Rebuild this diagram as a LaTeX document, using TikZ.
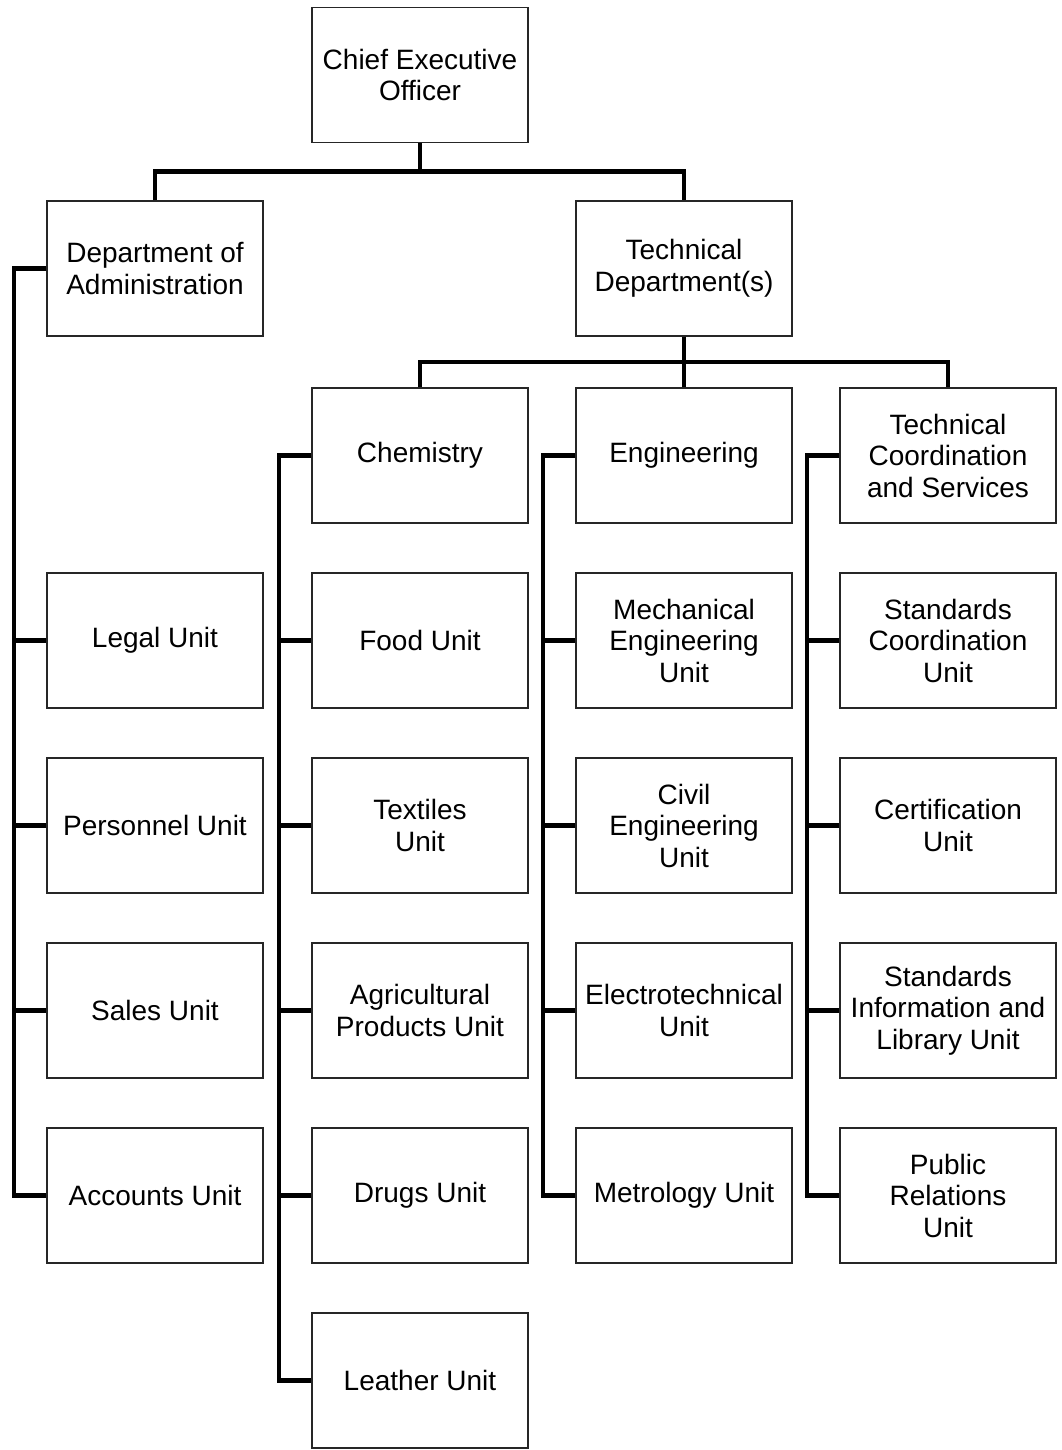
\documentclass[tikz,border=0pt]{standalone}
\usepackage{fontspec}
\setmainfont{Liberation Sans}
\begin{document}
\begin{tikzpicture}[x=1pt,y=-1pt,
  box/.style={draw=black!85,line width=1.4pt,fill=white,minimum width=216pt,minimum height=135pt,
    inner sep=0pt,align=center,font=\fontsize{28}{31.5}\selectfont},
  conn/.style={line width=4.6pt,line join=miter,line cap=butt}]
\useasboundingbox[fill=white] (0,0) rectangle (1061,1450);
% connectors drawn first (under boxes)
\path
  (420,75) node[box] (ceo) {Chief Executive\\Officer}
  (155,268.5) node[box] (admin) {Department of\\Administration}
  (684,268.5) node[box] (tech) {Technical\\Department(s)}
  (420,455.5) node[box] (chem) {Chemistry}
  (684,455.5) node[box] (eng) {Engineering}
  (948,455.5) node[box] (tcs) {Technical\\Coordination\\and Services}
  % administration units
  (155,640.5) node[box] (legal) {Legal Unit}
  (155,825.5) node[box] (pers) {Personnel Unit}
  (155,1010.5) node[box] (sales) {Sales Unit}
  (155,1195.5) node[box] (acct) {Accounts Unit}
  % chemistry units
  (420,640.5) node[box] (food) {Food Unit}
  (420,825.5) node[box] (text) {Textiles\\Unit}
  (420,1010.5) node[box] (agri) {Agricultural\\Products Unit}
  (420,1195.5) node[box] (drugs) {Drugs Unit}
  (420,1380.5) node[box] (leath) {Leather Unit}
  % engineering units
  (684,640.5) node[box] (mech) {Mechanical\\Engineering\\Unit}
  (684,825.5) node[box] (civil) {Civil\\Engineering\\Unit}
  (684,1010.5) node[box] (elec) {Electrotechnical\\Unit}
  (684,1195.5) node[box] (metro) {Metrology Unit}
  % technical coordination units
  (948,640.5) node[box] (stdc) {Standards\\Coordination\\Unit}
  (948,825.5) node[box] (cert) {Certification\\Unit}
  (948,1010.5) node[box] (info) {Standards\\Information and\\Library Unit}
  (948,1195.5) node[box] (pr) {Public\\Relations\\Unit};
% top level
\coordinate (j1) at (420,171.5);
\draw[conn] (ceo.south) -- (j1);
\draw[conn] (admin.north) |- (j1) -| (tech.north);
% technical departments
\coordinate (j2) at (684,362);
\draw[conn] (tech.south) -- (j2);
\draw[conn] (chem.north) |- (j2) -| (tcs.north);
\draw[conn] (eng.north) -- (j2);
% administration branch
\draw[conn] (admin.west) -- ++(-32.5,0) |- (acct.west);
\foreach \n in {legal,pers,sales} \draw[conn] (\n.west) -- ++(-32.5,0);
% chemistry branch
\draw[conn] (chem.west) -- ++(-32.5,0) |- (leath.west);
\foreach \n in {food,text,agri,drugs} \draw[conn] (\n.west) -- ++(-32.5,0);
% engineering branch
\draw[conn] (eng.west) -- ++(-32.5,0) |- (metro.west);
\foreach \n in {mech,civil,elec} \draw[conn] (\n.west) -- ++(-32.5,0);
% technical coordination branch
\draw[conn] (tcs.west) -- ++(-32.5,0) |- (pr.west);
\foreach \n in {stdc,cert,info} \draw[conn] (\n.west) -- ++(-32.5,0);
\end{tikzpicture}
\end{document}
